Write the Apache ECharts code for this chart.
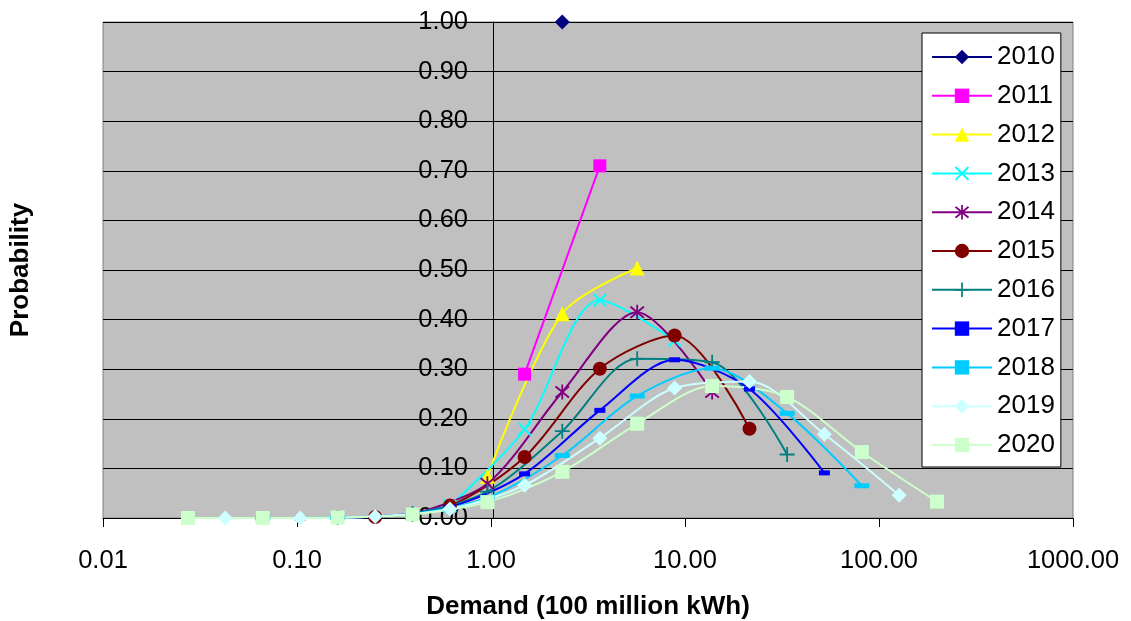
<!DOCTYPE html>
<html>
<head>
<meta charset="utf-8">
<script src="https://cdn.jsdelivr.net/npm/echarts@6/dist/echarts.min.js"></script>
<style>
  html, body { margin: 0; padding: 0; background: #fff; }
  #main { width: 1131px; height: 621px; }
</style>
</head>
<body>
<div id="main"></div>
<script>
var myChart = echarts.init(document.getElementById('main'));

// demand levels of the lattice (100 million kWh)
const demand = [0.0274, 0.0427, 0.0666, 0.104, 0.162, 0.253, 0.394, 0.614, 0.958, 1.49,
  2.33, 3.64, 5.67, 8.84, 13.8, 21.5, 33.6, 52.3, 81.6, 127, 199];

const years = ['2010', '2011', '2012', '2013', '2014', '2015', '2016', '2017', '2018', '2019', '2020'];

// probabilities per year, lowest demand first
const p2010 = [1.000];
const p2011 = [0.290, 0.710];
const p2012 = [0.084, 0.412, 0.504];
const p2013 = [0.024, 0.179, 0.439, 0.358];
const p2014 = [0.007, 0.069, 0.254, 0.415, 0.254];
const p2015 = [0.002, 0.025, 0.123, 0.301, 0.368, 0.180];
const p2016 = [0.001, 0.009, 0.053, 0.175, 0.321, 0.314, 0.128];
const p2017 = [0.000, 0.003, 0.022, 0.089, 0.217, 0.319, 0.260, 0.091];
const p2018 = [0.000, 0.001, 0.008, 0.041, 0.126, 0.246, 0.302, 0.211, 0.065];
const p2019 = [0.000, 0.000, 0.003, 0.018, 0.066, 0.161, 0.262, 0.275, 0.169, 0.046];
const p2020 = [0.000, 0.000, 0.001, 0.007, 0.032, 0.093, 0.190, 0.266, 0.244, 0.133, 0.033];

const probs = [p2010, p2011, p2012, p2013, p2014, p2015, p2016, p2017, p2018, p2019, p2020];

// markers like the excel defaults
const xMark = 'path://M0,1L1,0L5,4L9,0L10,1L6,5L10,9L9,10L5,6L1,10L0,9L4,5Z';
const starMark = 'path://M0,1L1,0L5,4L9,0L10,1L6,5L10,9L9,10L5,6L1,10L0,9L4,5Z M4.4,-1L5.6,-1L5.6,11L4.4,11Z';
const plusMark = 'path://M4.4,0L5.6,0L5.6,4.4L10,4.4L10,5.6L5.6,5.6L5.6,10L4.4,10L4.4,5.6L0,5.6L0,4.4L4.4,4.4Z';

const styles = [
  { color: '#000080', symbol: 'diamond', size: 15 },
  { color: '#FF00FF', symbol: 'rect', size: 13 },
  { color: '#FFFF00', symbol: 'triangle', size: 15 },
  { color: '#00FFFF', symbol: xMark, size: 14 },
  { color: '#800080', symbol: starMark, size: 15 },
  { color: '#800000', symbol: 'circle', size: 14 },
  { color: '#008080', symbol: plusMark, size: 15 },
  { color: '#0000FF', symbol: 'rect', size: [11, 5] },
  { color: '#00CCFF', symbol: 'rect', size: [15, 5] },
  { color: '#CCFFFF', symbol: 'diamond', size: 15 },
  { color: '#CCFFCC', symbol: 'rect', size: 14 }
];

let series = years.map((y, n) => {
  let pts = probs[n].map((v, i) => [demand[10 - n + 2 * i], v]);
  let s = styles[n];
  return {
    name: y,
    type: 'line',
    data: pts,
    smooth: 0.3,
    clip: false,
    symbol: s.symbol,
    symbolSize: s.size,
    color: s.color,
    lineStyle: { width: 2, color: s.color },
    itemStyle: { color: s.color },
    emphasis: { disabled: true }
  };
});

var option = {
  backgroundColor: '#fff',
  animation: false,
  textStyle: { fontFamily: 'Liberation Sans, Arial, sans-serif' },
  grid: {
    left: 103, right: 58, top: 22, bottom: 103,
    outerBoundsMode: 'none',
    show: true,
    backgroundColor: '#C0C0C0',
    borderColor: '#808080',
    borderWidth: 1
  },
  legend: {
    orient: 'vertical',
    left: 922,
    top: 33,
    padding: [11, 6, 9, 9],
    backgroundColor: '#fff',
    borderColor: '#000',
    borderWidth: 1,
    borderRadius: 0,
    itemWidth: 60,
    itemHeight: 18,
    itemGap: 12.8,
    textStyle: { fontSize: 26, color: '#000', lineHeight: 26 },
    data: years
  },
  xAxis: {
    type: 'log',
    logBase: 10,
    min: 0.01,
    max: 1000,
    name: 'Demand (100 million kWh)',
    nameLocation: 'middle',
    nameGap: 76,
    nameTextStyle: { fontSize: 26, fontWeight: 'bold', color: '#000' },
    axisLine: { lineStyle: { color: '#000', width: 1 } },
    axisTick: { length: 9, lineStyle: { color: '#000' } },
    minorTick: { show: false },
    splitLine: { show: false },
    axisLabel: {
      fontSize: 25.5, color: '#000', margin: 30,
      formatter: v => Number(v).toFixed(2)
    }
  },
  yAxis: {
    type: 'value',
    min: 0,
    max: 1,
    interval: 0.1,
    offset: -390,
    name: 'Probability',
    nameLocation: 'middle',
    nameGap: 459,
    nameTextStyle: { fontSize: 26, fontWeight: 'bold', color: '#000' },
    axisLine: { show: true, lineStyle: { color: '#000', width: 1 } },
    axisTick: { show: true, length: 7, lineStyle: { color: '#000' } },
    splitLine: { show: true, lineStyle: { color: '#000', width: 1 } },
    axisLabel: {
      fontSize: 25.5, color: '#000', margin: 25,
      formatter: v => v.toFixed(2)
    }
  },
  series: series
};

myChart.setOption(option);
</script>
</body>
</html>
